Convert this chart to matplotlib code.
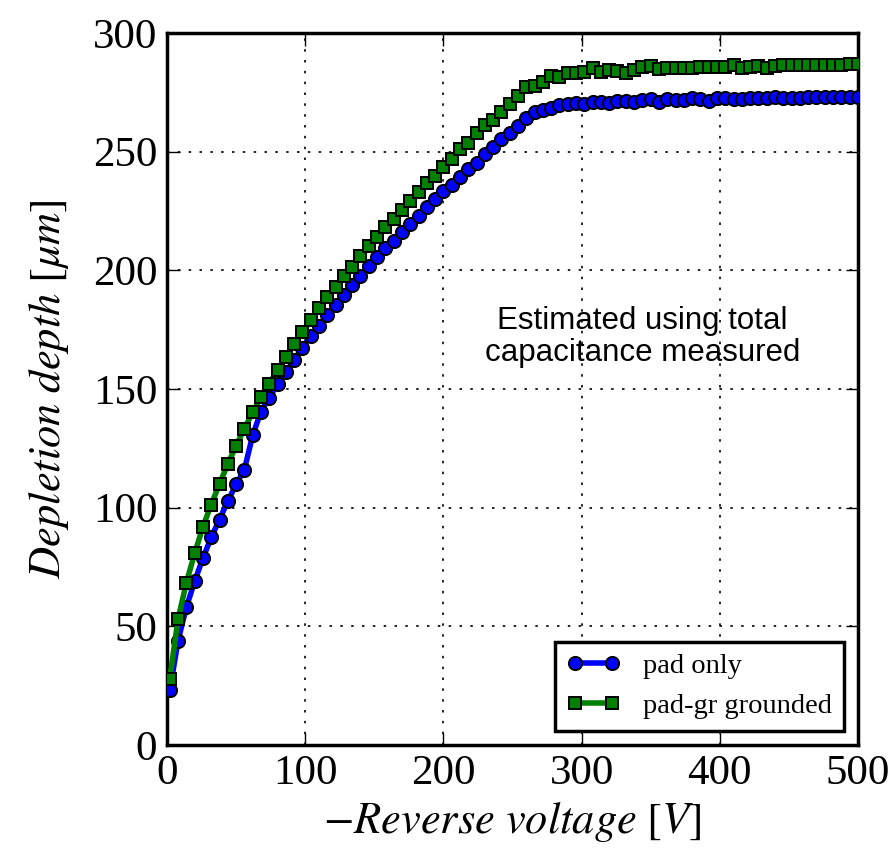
import matplotlib

matplotlib.use('Agg')
import matplotlib.pyplot as plt

# reverse bias points (V)
voltage = [2, 8, 14, 20, 26, 32, 38, 44, 50, 56, 62, 68, 74, 80, 86, 92, 98,
           104, 110, 116, 122, 128, 134, 140, 146, 152, 158, 164, 170, 176,
           182, 188, 194, 200, 206, 212, 218, 224, 230, 236, 242, 248, 254,
           260, 266, 272, 278, 284, 290, 296, 302, 308, 314, 320, 326, 332,
           338, 344, 350, 356, 362, 368, 374, 380, 386, 392, 398, 404, 410,
           416, 422, 428, 434, 440, 446, 452, 458, 464, 470, 476, 482, 488,
           494, 500]

# depletion depth (um), pad only
depth_pad = [23, 44, 58, 69, 78.7, 87.5, 95, 102.8, 109.8, 116, 130.5, 140.5,
             146.3, 152, 157, 162.2, 167.4, 172.5, 176.7, 181.2, 185.4, 189.6,
             193.8, 197.8, 201.9, 205.5, 209.3, 212.5, 216, 219.5, 223, 226.6,
             229.9, 233.5, 236, 239.2, 242.6, 245.4, 249.2, 252.1, 255.2, 258,
             261, 264, 266.8, 267.6, 268.5, 269.7, 270.1, 270.3, 270.2, 271.1,
             271.1, 270.7, 271.4, 271.4, 271.1, 271.8, 272.1, 271.1, 272.1,
             271.8, 271.8, 272.5, 272.1, 271.4, 272.5, 272.5, 272.1, 272.1,
             272.5, 272.5, 272.5, 272.9, 272.7, 272.7, 272.8, 272.9, 272.9,
             272.9, 272.9, 272.9, 272.9, 272.9]

# depletion depth (um), pad with guard ring grounded
depth_gr = [28, 53, 68.4, 80.7, 92, 101.3, 110, 118.4, 126.1, 133.3, 140.2,
            146.5, 152, 158, 163.5, 169, 173.8, 178.9, 184, 188.6, 193.1,
            197.6, 201.6, 206.1, 210.3, 213.9, 218.4, 221.7, 225.5, 229.4,
            233, 237, 239.8, 243.7, 246.8, 251.1, 253.8, 257.7, 261.3, 263.4,
            266.9, 270, 273.4, 277.1, 277.8, 279.5, 282, 281.6, 283.3, 283.3,
            283.7, 285.1, 283.7, 284.4, 284, 283.3, 284.4, 285.8, 286.1, 284.7,
            285.1, 285.1, 285.1, 285.1, 285.5, 285.5, 285.8, 285.8, 286.5,
            285.1, 285.8, 286.1, 285.1, 286.1, 286.5, 286.5, 286.5, 286.5,
            286.5, 286.5, 286.5, 286.5, 286.8, 286.8]

plt.rcParams['mathtext.fontset'] = 'stix'
plt.rcParams['font.family'] = 'Liberation Serif'

fig = plt.figure(figsize=(8.95, 8.48), dpi=100)
ax = fig.add_axes([0.1866, 0.1215, 0.772, 0.8396])

ax.plot(voltage, depth_pad, color='blue', lw=4, marker='o', ms=9.5,
        mec='black', mew=1.4, label='pad only', zorder=3)
ax.plot(voltage, depth_gr, color='green', lw=4, marker='s', ms=8.5,
        mec='black', mew=1.4, label='pad-gr grounded', zorder=3)

ax.set_xlim(0, 500)
ax.set_ylim(0, 300)
ax.set_xticks([0, 100, 200, 300, 400, 500])
ax.set_yticks([0, 50, 100, 150, 200, 250, 300])
ax.grid(True, color='black', linestyle=(0, (1.5, 5)), lw=1.2)
ax.tick_params(direction='in', length=9, width=1, top=True, right=True,
               labelsize=31, pad=7)
for sp in ax.spines.values():
    sp.set_linewidth(2.5)

ax.set_xlabel(r'$-Reverse\ voltage\ [V]$', fontsize=32, labelpad=5)
ax.set_ylabel(r'$Depletion\ depth\ [\mu m]$', fontsize=32, labelpad=16)

ax.text(344, 172, 'Estimated using total\ncapacitance measured',
        family='Liberation Sans', fontsize=22.5, ha='center', va='center',
        linespacing=1.1)

leg = ax.legend(loc='lower right', numpoints=2, fontsize=20.5, fancybox=False,
                framealpha=1, edgecolor='black', borderaxespad=0.5,
                handlelength=1.9, handletextpad=0.8)
leg.get_frame().set_linewidth(2.5)

plt.savefig('out.png', dpi=100)
